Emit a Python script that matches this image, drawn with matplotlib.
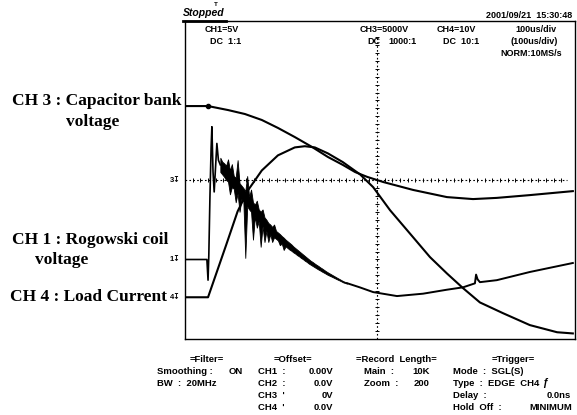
import numpy as np
import matplotlib
matplotlib.use("Agg")
import matplotlib.pyplot as plt
from matplotlib.lines import Line2D
import matplotlib.transforms as mtransforms

W, H = 577, 415

# Vertical scale of each channel (units per division) and ground level (divisions from centre)
ch1_scale, ch3_scale, ch4_scale = 5.0, 5000.0, 10.0
ch1_ground, ch3_ground, ch4_ground = -2.0, 0.0, -2.95

# CH3 : capacitor bank voltage [V] vs time [us]
ch3_t = [0, 60, 112, 156, 200, 242, 286, 331, 372, 411, 443, 474, 516, 594, 682, 750, 812, 898, 1010]
ch3_v = [9300, 9300, 8800, 8300, 7550, 6550, 5400, 4150, 2900, 1900, 1000, 400, -250, -1250,
         -2150, -2400, -2250, -1900, -1400]

# CH4 : load current probe [V] vs time [us]
ch4_t = [0, 60, 107, 137, 164, 200, 242, 286, 312, 338, 372, 411, 456, 490, 534, 594, 638,
         682, 724, 768, 828, 898, 969, 1010]
ch4_v = [0, 0, 13.1, 21.6, 26.9, 31.9, 35.7, 37.7, 38.0, 37.7, 36.2, 34.0, 30.9, 27.7, 21.9,
         15.1, 10.1, 6.0, 2.3, -1.3, -4.0, -7.0, -8.8, -9.1]

# CH1 : Rogowski coil voltage [V]
# onset of the pulse
ch1_t_onset = [0, 57, 60, 62, 65, 68, 70, 73, 76, 80, 83, 87, 92]
ch1_v_onset = [0, 0, -2.6, 0.5, 8.0, 14.0, 16.7, 11.0, 8.5, 12.0, 14.6, 12.5, 11.9]
# noisy decay: upper / lower envelope of the trace
ch1_t_band = np.arange(92, 427, 5)
ch1_v_hi = [12.8, 12.3, 12.1, 11.8, 12.6, 11.2, 12.0, 10.5, 10.3, 12.5, 9.6, 9.3, 9.0, 8.6,
            10.5, 7.9, 8.8, 7.2, 6.9, 7.4, 6.3, 6.0, 6.3, 5.3, 5.0, 4.6, 4.4, 4.1, 4.4, 3.6,
            3.4, 3.2, 2.95, 2.75, 2.5, 2.3, 2.1, 1.9, 1.65, 1.45, 1.25, 1.05, 0.85, 0.65, 0.45,
            0.25, 0.05, -0.15, -0.3, -0.48, -0.65, -0.8, -0.98, -1.13, -1.3, -1.47, -1.62,
            -1.76, -1.9, -2.04, -2.18, -2.32, -2.45, -2.59, -2.72, -2.82, -2.93]
ch1_v_lo = [11.0, 10.7, 10.4, 10.0, 9.8, 8.2, 9.1, 8.9, 7.2, 8.3, 6.0, 7.6, 7.3, 0.2,
            6.7, 6.3, 6.0, 2.5, 5.4, 4.0, 4.8, 1.6, 4.2, 2.2, 3.6, 2.2, 3.2, 2.2, 2.8, 2.6,
            2.4, 1.8, 2.0, 1.2, 1.65, 1.45, 1.25, 1.1, 0.9, 0.75, 0.55, 0.4, 0.2, 0.05, -0.15,
            -0.3, -0.5, -0.65, -0.8, -0.95, -1.1, -1.25, -1.38, -1.53, -1.66, -1.8, -1.94,
            -2.05, -2.16, -2.28, -2.4, -2.52, -2.63, -2.75, -2.88, -2.96, -3.03]
# slow tail after the noise has died out
ch1_t_tail = [422, 455, 490, 552, 620, 682, 724, 755, 758, 762, 768, 812, 898, 1010]
ch1_v_tail = [-2.98, -3.5, -4.1, -4.6, -4.3, -3.8, -3.5, -3.0, -1.9, -2.5, -2.85, -2.6, -1.57, -0.44]


def to_div(values, scale, ground):
    return np.asarray(values, dtype=float) / scale + ground


scope_font = dict(family=["Liberation Sans", "DejaVu Sans"], weight="bold", color="black")
label_font = dict(family="Liberation Serif", weight="bold", color="black", fontsize=12.5)

fig = plt.figure(figsize=(W / 100, H / 100), dpi=100)
fig.patch.set_facecolor("white")

# Screen area: 10 divisions of 100 us across, 8 divisions vertically
ax = fig.add_axes([185 / W, 1 - 339 / H, 390 / W, 318 / H])
ax.set_xlim(0, 1000 * 390 / 384)
ax.set_ylim(-4, 4)
ax.set_xticks([])
ax.set_yticks([])
for sp in ax.spines.values():
    sp.set_linewidth(1.0)
    sp.set_color("black")

# Centre graticule lines with minor division marks
ax.plot([0, 995], [0, 0], color="black", lw=0.8, ls=(0, (1.5, 2.0)))
ax.vlines(np.arange(20, 1000, 20), -0.055, 0.055, color="black", lw=0.7)
ax.plot([500, 500], [-4, 3.62], color="black", lw=0.8, ls=(0, (1.5, 2.0)))
ax.hlines(np.arange(-3.8, 3.61, 0.2), 495, 505, color="black", lw=0.7)

# Waveforms
ax.plot(ch3_t, to_div(ch3_v, ch3_scale, ch3_ground), color="black", lw=1.5)
ax.plot(ch3_t[1], to_div([ch3_v[1]], ch3_scale, ch3_ground)[0], "o", color="black", ms=3)
ax.plot(ch4_t, to_div(ch4_v, ch4_scale, ch4_ground), color="black", lw=1.5)
ax.plot(ch1_t_onset, to_div(ch1_v_onset, ch1_scale, ch1_ground), color="black", lw=1.2)
ax.fill_between(ch1_t_band, to_div(ch1_v_lo, ch1_scale, ch1_ground),
                to_div(ch1_v_hi, ch1_scale, ch1_ground), color="black", lw=0.6)
ax.plot(ch1_t_tail, to_div(ch1_v_tail, ch1_scale, ch1_ground), color="black", lw=1.4)

# Ground markers at the left edge of the screen
blend = mtransforms.blended_transform_factory(ax.transAxes, ax.transData)
for num, g in (("3", ch3_ground), ("1", ch1_ground), ("4", ch4_ground)):
    ax.text(-0.012, g, num + "\u21a7", transform=blend, ha="right", va="center",
            fontsize=5.5, clip_on=False, **scope_font)


def ftext(x, y, s, ha="left", size=6.5, **kw):
    fig.text(x / W, 1 - y / H, s, ha=ha, va="center", fontsize=size, **{**scope_font, **kw})


# Header
ftext(183, 13, "Stopped", size=7.5, style="italic")
fig.add_artist(Line2D([183 / W, 226 / W], [1 - 21 / H] * 2, color="black", lw=2.0,
                      transform=fig.transFigure))
ftext(214, 5, "T", size=4.5)
ftext(572, 16, "2001/09/21  15:30:48", ha="right", size=6.5)

ftext(205, 30, "CH1=5V")
ftext(210, 41, "DC  1:1")
ftext(360, 30, "CH3=5000V")
ftext(367, 41, "DC")
ftext(388, 41, "1000:1")
ftext(437, 30, "CH4=10V")
ftext(443, 41, "DC  10:1")
ftext(536, 30, "100us/div", ha="center")
ftext(534, 42, "(100us/div)", ha="center")
ftext(531, 54, "NORM:10MS/s", ha="center")

# Settings panel below the screen
ftext(207, 359, "=Filter=", ha="center", size=6.8)
ftext(157, 371, "Smoothing :", size=6.8)
ftext(243, 371, "ON", ha="right", size=6.8)
ftext(157, 383, "BW  :  20MHz", size=6.8)

ftext(293, 359, "=Offset=", ha="center", size=6.8)
for row, (ch, val) in enumerate((("CH1  :", "0.00V"), ("CH2  :", "0.0V"),
                                 ("CH3  '", "0V"), ("CH4  '", "0.0V"))):
    ftext(258, 371 + 12 * row, ch, size=6.8)
    ftext(333, 371 + 12 * row, val, ha="right", size=6.8)

ftext(396, 359, "=Record  Length=", ha="center", size=6.8)
ftext(364, 371, "Main  :", size=6.8)
ftext(430, 371, "10K", ha="right", size=6.8)
ftext(364, 383, "Zoom  :", size=6.8)
ftext(430, 383, "200", ha="right", size=6.8)

ftext(513, 359, "=Trigger=", ha="center", size=6.8)
ftext(453, 371, "Mode  :  SGL(S)", size=6.8)
ftext(453, 383, "Type  :  EDGE  CH4", size=6.8)
ftext(548, 383, "\u0192", ha="right", size=7.5)
ftext(453, 395, "Delay  :", size=6.8)
ftext(571, 395, "0.0ns", ha="right", size=6.8)
ftext(453, 407, "Hold  Off  :", size=6.8)
ftext(572, 407, "MINIMUM", ha="right", size=6.8)

# Channel annotations to the left of the screen
fig.text(12 / W, 1 - 101 / H, "CH 3 : Capacitor bank", ha="left", va="center", **label_font)
fig.text(93 / W, 1 - 122 / H, "voltage", ha="center", va="center", **label_font)
fig.text(12 / W, 1 - 240 / H, "CH 1 : Rogowski coil", ha="left", va="center", **label_font)
fig.text(62 / W, 1 - 260 / H, "voltage", ha="center", va="center", **label_font)
fig.text(10 / W, 1 - 297 / H, "CH 4 : Load Current", ha="left", va="center", **label_font)

fig.savefig("out.png", dpi=100, facecolor="white")
